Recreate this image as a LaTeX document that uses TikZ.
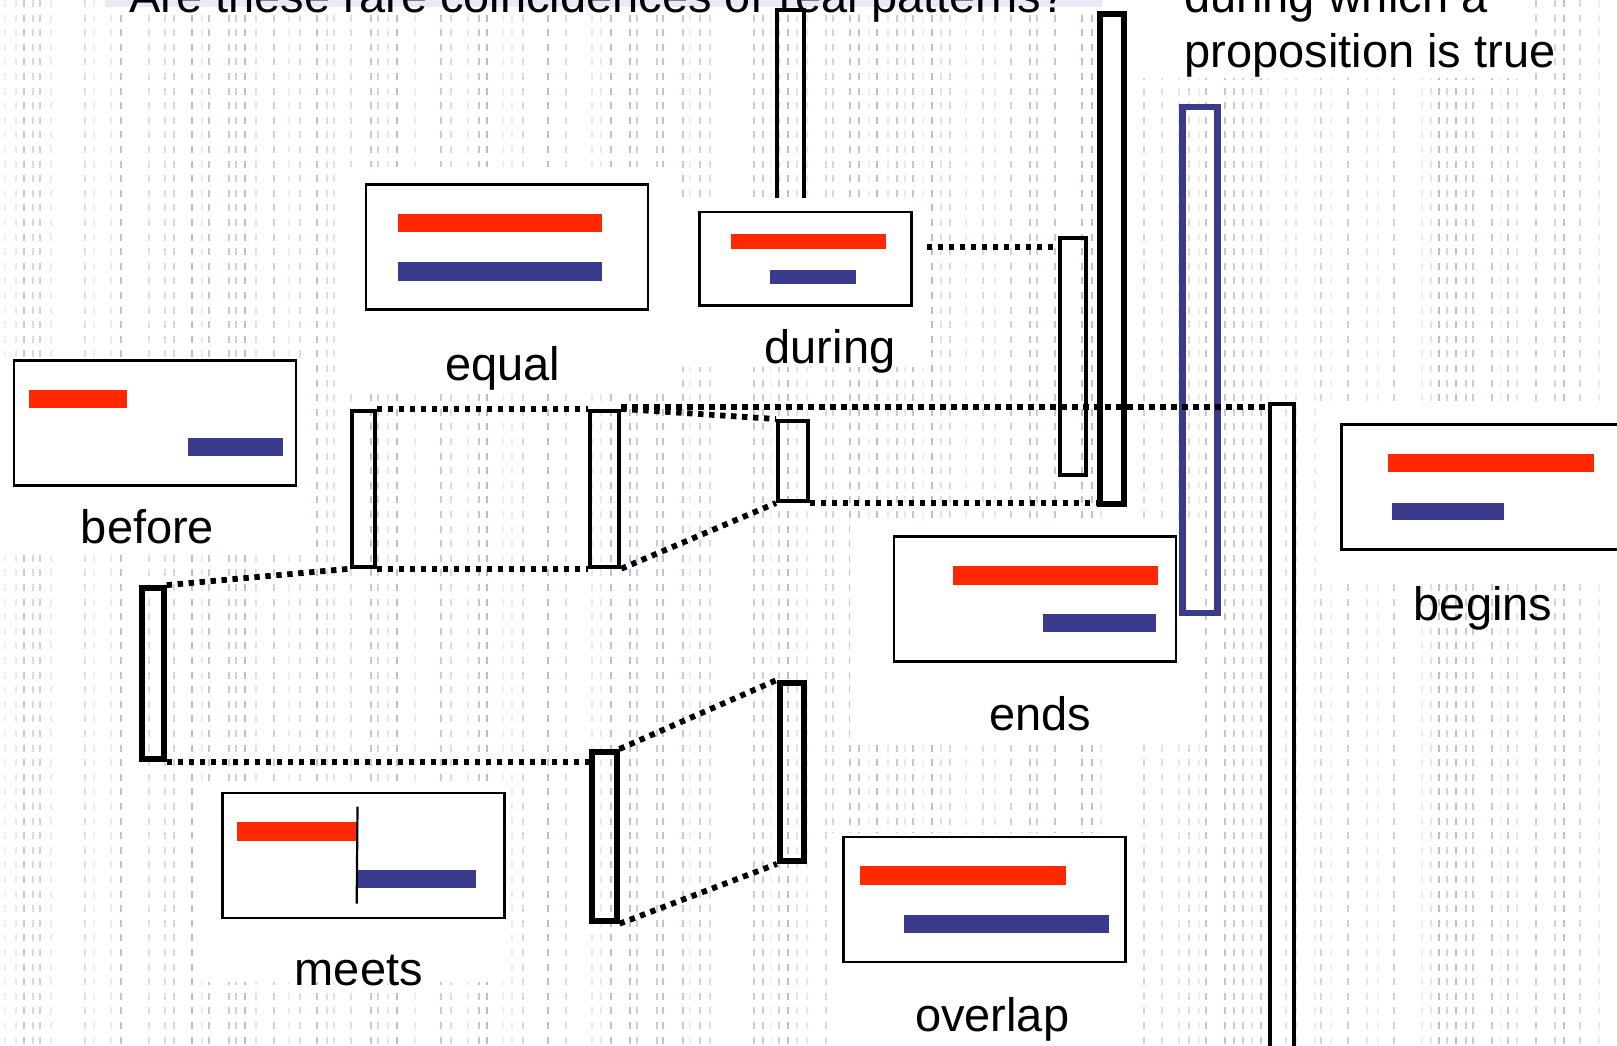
\documentclass[tikz,border=0pt]{standalone}
\usepackage{fontspec}
\setmainfont{Liberation Sans}
\usetikzlibrary{positioning}
\definecolor{barred}{RGB}{255,40,0}
\definecolor{barblue}{RGB}{58,58,140}
\definecolor{glyph}{RGB}{95,95,185}
\definecolor{band}{RGB}{236,232,248}
\newcommand{\relfont}{\fontsize{23.5}{28}\selectfont}

\begin{document}
\begin{tikzpicture}[x=0.5pt,y=-0.5pt,
relbox/.style={draw,line width=1.3pt,fill=white,inner sep=0pt,minimum width=141pt,minimum height=62.5pt},
bar/.style={inner sep=0pt,minimum height=9.2pt,anchor=north west},
redbar/.style={bar,fill=barred},
bluebar/.style={bar,fill=barblue},
slot/.style={draw,line width=3pt,inner sep=0pt},
thinslot/.style={draw,line width=2pt,inner sep=0pt},
link/.style={line width=2.9pt,dash pattern=on 2.7pt off 2.8pt},
lbl/.style={font=\relfont,anchor=base,inner sep=0pt},
patch/.style={fill=white,draw=none}]
\useasboundingbox (0,0) rectangle (1617,1045);
\clip (0,0) rectangle (1617,1045);
\fill[white] (0,0) rectangle (1617,1045);
% faint columns of the data print behind
\pgfmathsetseed{42}
\foreach \i in {0,...,180}{
  \pgfmathsetmacro\gx{4+8.9*\i+3*rnd}
  \pgfmathsetmacro\gop{rnd<0.3?0:0.08+0.35*rnd}
  \draw[glyph,line width=1pt,opacity=\gop,dash pattern=on 3.5pt off 3.8pt] (\gx,0) -- (\gx,1045);
}
\node[thinslot,minimum width=13.45pt,minimum height=101.85pt] (I) at (790.45,111.65) {};
% white ground round the boxes
\fill[patch] (348,167) rectangle (668,390);
\fill[patch] (680,198) rectangle (925,367);
\fill[patch] (0,357) rectangle (302,550);
\fill[patch] (850,518) rectangle (1200,742);
\fill[patch] (1318,402) rectangle (1617,577);
\fill[patch] (200,782) rectangle (510,982);
\fill[patch] (828,833) rectangle (1133,1045);
\fill[patch] (1140,0) rectangle (1525,78);
\fill[band] (105,0) rectangle (1100,7);
% heading
\node[lbl,anchor=base west] (question) at (129,12.4) {Are these rare coincidences or real patterns?};
\node[lbl,anchor=base west] (prop1) at (1184,12.4) {during which a};
\node[lbl,anchor=base west] (prop2) at (1184,67) {proposition is true};
% relations
\node[relbox] (equal) at (507,247) {};
\node[redbar,minimum width=102.35pt] (eqR) at (397.3,213.3) {};
\node[bluebar,minimum width=102.35pt] (eqB) at (397.3,261.7) {};
\node[lbl] (equalL) at (502.7,380) {equal};
\node[relbox,minimum width=106pt,minimum height=46.7pt] (during) at (805.6,258.8) {};
\node[redbar,minimum width=77.15pt,minimum height=7.3pt] (duR) at (731,233.7) {};
\node[bluebar,minimum width=42.85pt,minimum height=7.3pt] (duB) at (770,269.3) {};
\node[lbl] (duringL) at (830,363.3) {during};
\node[relbox] (before) at (155,422.8) {};
\node[redbar,minimum width=48.85pt] (beR) at (29,389.3) {};
\node[bluebar,minimum width=47.3pt] (beB) at (187.7,437.3) {};
\node[lbl] (beforeL) at (147.5,543.3) {before};
\node[relbox] (ends) at (1035,598.7) {};
\node[redbar,minimum width=102.5pt] (enR) at (952.7,565.7) {};
\node[bluebar,minimum width=56.7pt] (enB) at (1042.3,613.3) {};
\node[lbl] (endsL) at (1040,730) {ends};
\node[relbox] (begins) at (1482.6,486.7) {};
\node[redbar,minimum width=102.65pt,minimum height=8.8pt] (bgR) at (1388,453.8) {};
\node[bluebar,minimum width=56.25pt,minimum height=8.8pt] (bgB) at (1391.1,502.2) {};
\node[lbl] (beginsL) at (1483,620.5) {begins};
\node[relbox] (meets) at (363.3,855.3) {};
\node[redbar,minimum width=60pt] (mR) at (236.7,821.7) {};
\node[bluebar,minimum width=59.5pt] (mB) at (356.7,869.3) {};
\draw[line width=1.1pt] ([yshift=7.5pt]mR.north east) -- ([yshift=-7.5pt]mB.south west);
\node[lbl] (meetsL) at (358.8,985) {meets};
\node[relbox] (overlap) at (984.7,899.5) {};
\node[redbar,minimum width=102.65pt] (ovR) at (860,866) {};
\node[bluebar,minimum width=102.3pt] (ovB) at (903.7,914.3) {};
\node[lbl] (overlapL) at (992.2,1031.7) {overlap};
% time windows
\node[thinslot,minimum width=11.4pt,minimum height=77.9pt] (A) at (363.5,488.8) {};
\node[thinslot,minimum width=14.5pt,minimum height=77.9pt] (B) at (604.8,488.8) {};
\node[thinslot,minimum width=15pt,minimum height=40pt] (C) at (793,461) {};
\node[slot,minimum width=11.1pt,minimum height=85.3pt] (D) at (152.6,673.4) {};
\node[slot,minimum width=12.15pt,minimum height=84.35pt] (E) at (604.35,836.35) {};
\node[slot,minimum width=12.1pt,minimum height=89pt] (F) at (792,771.9) {};
\node[thinslot,minimum width=13.25pt,minimum height=118.5pt] (G) at (1072.75,356) {};
\node[slot,minimum width=12.05pt,minimum height=244.7pt] (H) at (1111.65,259) {};
\node[draw=barblue,line width=3.4pt,inner sep=0pt,minimum width=17.3pt,minimum height=252.95pt] (J) at (1199.9,359.95) {};
\node[thinslot,minimum width=11.7pt,minimum height=347.15pt] (K) at (1281.85,751.1) {};
% dotted links
\coordinate (duringTap) at (927,246.7);
\draw[link] (A.north east) -- (B.north west);
\draw[link] (A.south east) -- (B.south west);
\draw[link] ([yshift=1pt]B.north east) -- ([yshift=1pt]B.north east -| K.west);
\draw[link] (B.north east) -- (C.north west);
\draw[link] (B.south east) -- (C.south west);
\draw[link] (C.south east) -- (C.south east -| H.west);
\draw[link] (duringTap) -- (duringTap -| G.west);
\draw[link] (D.north east) -- (A.south west);
\draw[link] (D.south east) -- (D.south east -| E.west);
\draw[link] (E.north east) -- (F.north west);
\draw[link] (E.south east) -- (F.south west);
\end{tikzpicture}
\end{document}
